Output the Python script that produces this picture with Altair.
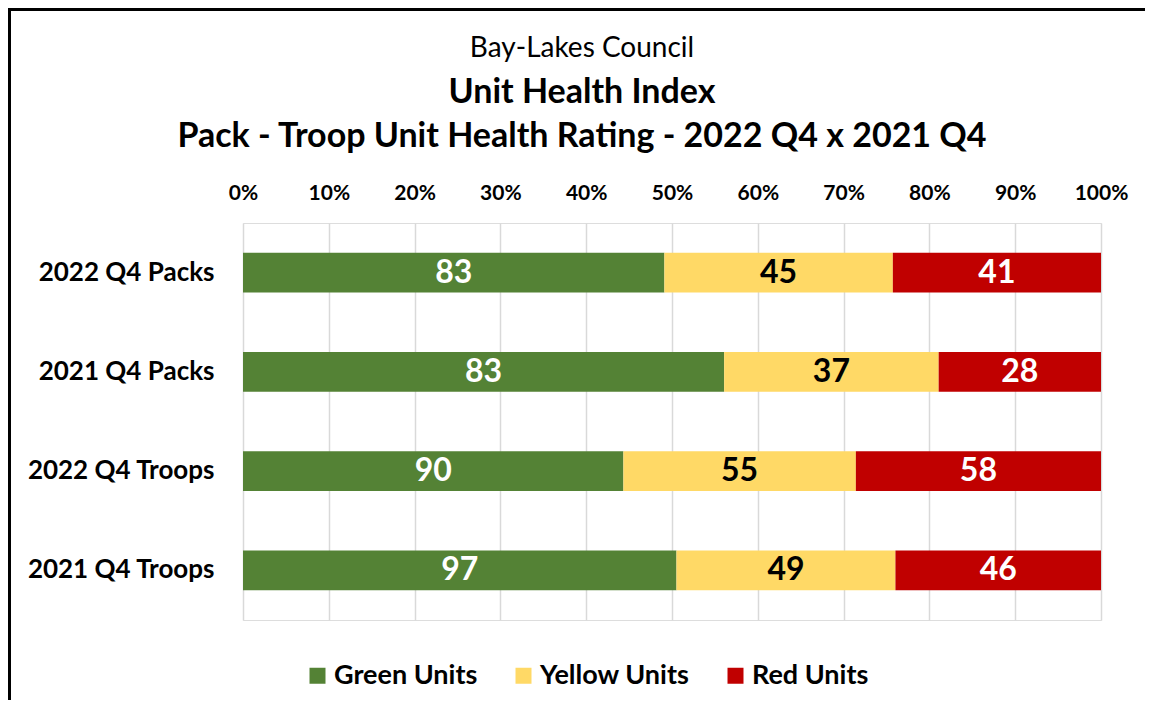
import altair as alt
import pandas as pd

rows = ["2022 Q4 Packs", "2021 Q4 Packs", "2022 Q4 Troops", "2021 Q4 Troops"]
categories = ["Green Units", "Yellow Units", "Red Units"]
green = [83, 83, 90, 97]
yellow = [45, 37, 55, 49]
red = [41, 28, 58, 46]
colors = ["#548235", "#FFD966", "#C00000"]
text_colors = ["white", "black", "white"]

records = []
for i, r in enumerate(rows):
    for j, (c, vals) in enumerate(zip(categories, [green, yellow, red])):
        records.append({"row": r, "cat": c, "value": vals[i], "order": j, "tcolor": text_colors[j]})
df = pd.DataFrame(records)

FONT = "Lato"
W, H = 858, 397

base = alt.Chart(df).transform_stack(
    stack="value", as_=["v0", "v1"], groupby=["row"], offset="normalize",
    sort=[alt.SortField("order", order="ascending")]
).transform_calculate(mid="(datum.v0 + datum.v1) / 2")

y_enc = alt.Y("row:N", sort=rows, title=None,
              scale=alt.Scale(paddingInner=0.6, paddingOuter=0.3),
              axis=alt.Axis(labelFont=FONT, labelFontSize=26, labelFontWeight="bold",
                            labelColor="black", labelPadding=29, domain=False, ticks=False,
                            labelLimit=300))

bars = base.mark_bar().encode(
    x=alt.X("v0:Q", title=None, scale=alt.Scale(domain=[0, 1], nice=False),
            axis=alt.Axis(orient="top", format="%", values=[i / 10 for i in range(11)],
                          labelFont=FONT, labelFontSize=21, labelFontWeight="bold",
                          labelColor="black", labelPadding=20, domain=False, ticks=False,
                          labelFlush=False,
                          grid=True, gridColor="#d9d9d9", gridWidth=1.5)),
    x2="v1:Q",
    y=y_enc,
    color=alt.Color("cat:N", sort=categories,
                    scale=alt.Scale(domain=categories, range=colors),
                    legend=alt.Legend(title=None, orient="none", direction="horizontal",
                                      legendX=61, legendY=439,
                                      symbolType="square", symbolSize=256,
                                      symbolStrokeWidth=0, symbolOpacity=1,
                                      labelFont=FONT, labelFontSize=27, labelFontWeight="bold",
                                      labelColor="black", labelOffset=3, columnPadding=32,
                                      labelLimit=300)),
    order=alt.Order("order:Q"),
)

labels = base.mark_text(font=FONT, fontSize=32, fontWeight="bold", baseline="middle").encode(
    x=alt.X("mid:Q"),
    y=alt.Y("row:N", sort=rows),
    text=alt.Text("value:Q"),
    color=alt.Color("tcolor:N", scale=None),
)

border = alt.Chart(pd.DataFrame({"a": [0]})).mark_rect(
    fill=None, stroke="black", strokeWidth=3
).encode(
    x=alt.value(-233.5), y=alt.value(-213.5), x2=alt.value(W + 300), y2=alt.value(H + 300)
)

chart = alt.layer(bars, labels, border).properties(
    width=W, height=H,
    autosize=alt.AutoSizeParams(type="none"),
    padding={"left": 235, "top": 215, "right": 44, "bottom": 80},
    title=alt.TitleParams(
        text="Bay-Lakes Council",
        subtitle=["Unit Health Index", "Pack - Troop Unit Health Rating - 2022 Q4 x 2021 Q4"],
        font=FONT, fontSize=28, fontWeight="normal", color="black",
        subtitleFont=FONT, subtitleFontSize=34, subtitleFontWeight="bold", subtitleColor="black",
        subtitleLineHeight=44, subtitlePadding=13,
        anchor="middle", dx=-90, offset=-146,
    ),
).configure_view(stroke=None).configure(background="white")

chart.save("out.html", embed_options={"renderer": "svg", "actions": False})
